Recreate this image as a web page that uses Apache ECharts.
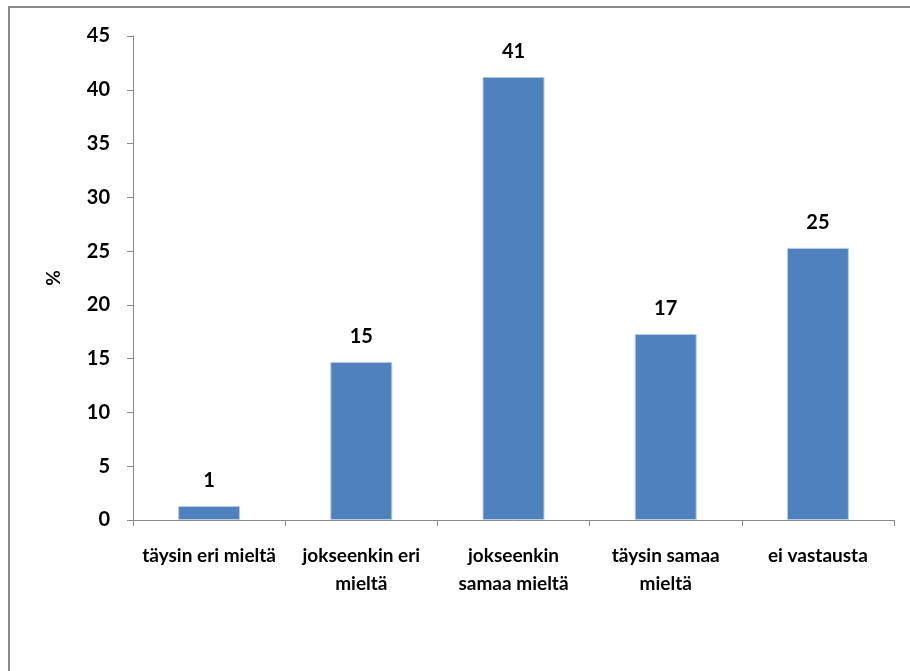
<!DOCTYPE html>
<html><head><meta charset="utf-8">
<script src="https://cdn.jsdelivr.net/npm/echarts@6/dist/echarts.min.js"></script>
<style>html,body{margin:0;padding:0;background:#fff}#c{width:910px;height:671px}</style>
</head><body><div id="c"></div>
<script>
const categories = ['täysin eri mieltä', 'jokseenkin eri\nmieltä', 'jokseenkin\nsamaa mieltä', 'täysin samaa\nmieltä', 'ei vastausta'];
const values = [1.3, 14.7, 41.2, 17.3, 25.3];
const labels = ['1', '15', '41', '17', '25'];
const yAxisName = '%';

const font = 'Lato';
const chart = echarts.init(document.getElementById('c'), null, {renderer: 'canvas'});
chart.setOption({
  animation: false,
  backgroundColor: '#fff',
  graphic: [{
    type: 'rect', shape: {x: 9, y: 7, width: 960, height: 720},
    style: {fill: 'none', stroke: '#8a8a8a', lineWidth: 2}, silent: true
  }],
  grid: {left: 133, right: 16, top: 36, bottom: 151},
  xAxis: {
    type: 'category', data: categories,
    axisLine: {lineStyle: {color: '#8a8a8a', width: 1}},
    axisTick: {show: true, length: 6, alignWithLabel: false, lineStyle: {color: '#8a8a8a'}},
    axisLabel: {color: '#000', fontFamily: font, fontSize: 19, fontWeight: 'bold', lineHeight: 28, margin: 22, interval: 0}
  },
  yAxis: {
    type: 'value', min: 0, max: 45, interval: 5,
    name: yAxisName, nameLocation: 'middle', nameGap: 70, nameRotate: 90,
    nameTextStyle: {color: '#000', fontFamily: font, fontSize: 19, fontWeight: 'bold'},
    splitLine: {show: false},
    axisLine: {show: true, lineStyle: {color: '#8a8a8a', width: 1}},
    axisTick: {show: true, length: 6, lineStyle: {color: '#8a8a8a'}},
    axisLabel: {color: '#000', fontFamily: font, fontSize: 20, fontWeight: 'bold', margin: 23}
  },
  series: [{
    type: 'bar', data: values, barWidth: 62,
    itemStyle: {color: '#4F81BD', borderColor: '#B9CDE5', borderWidth: 1},
    label: {
      show: true, position: 'top', distance: 15, color: '#000',
      fontFamily: font, fontSize: 20, fontWeight: 'bold',
      formatter: p => labels[p.dataIndex]
    }
  }]
});
</script></body></html>
